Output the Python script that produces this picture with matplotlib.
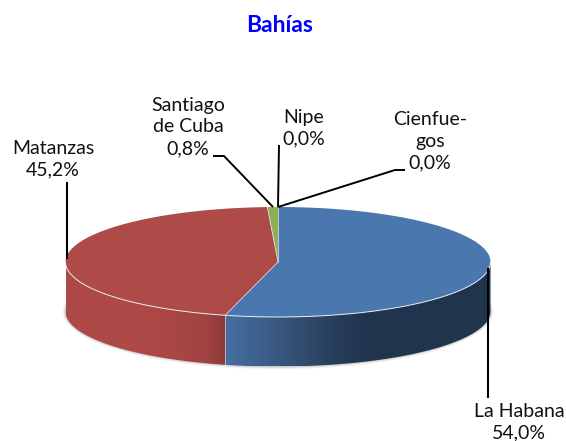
import numpy as np
import matplotlib
matplotlib.use('Agg')
import matplotlib.pyplot as plt
from matplotlib.patches import Ellipse, Polygon

# Data
categories = ['La Habana', 'Matanzas', 'Santiago\nde Cuba', 'Nipe', 'Cienfue-\ngos']
values = [54.0, 45.2, 0.8, 0.0, 0.0]
pct_labels = ['54,0%', '45,2%', '0,8%', '0,0%', '0,0%']
colors = ['#4977ae', '#ae4b48', '#8fae55', '#7a5f9a', '#46aac5']

plt.rcParams['font.family'] = ['Lato', 'DejaVu Sans']

# pie geometry in pixels
cx, cy, rx, ry, depth = 278, 262, 212.5, 55, 49.5


def rim(a):
    return cx + rx * np.sin(a), cy + ry * -np.cos(a)


fig = plt.figure(figsize=(5.66, 4.41), dpi=100, facecolor='white')
ax = fig.add_axes([0, 0, 1, 1])
ax.set_xlim(0, 566)
ax.set_ylim(441, 0)
ax.axis('off')

# soft shadow under the pie
for grow, alpha in [(3.0, 0.06), (2.2, 0.10), (1.4, 0.16), (0.7, 0.22)]:
    ax.add_patch(Ellipse((cx, cy + depth), 2 * (rx + grow), 2 * (ry + grow), fc='#909090', ec='none',
                         alpha=alpha, zorder=1))

# side wall, horizontal gradient clipped to the wall outline
xs_stop = [65, 120, 170, 205, 225, 225.01, 260, 300, 340, 365, 491]
side_r = [173, 174, 170, 160, 142, 70, 62, 50, 38, 32, 32]
side_g = [74, 74, 71, 67, 60, 112, 96, 78, 60, 52, 52]
side_b = [71, 72, 69, 65, 58, 162, 140, 113, 88, 78, 78]
grad_x = np.linspace(cx - rx, cx + rx, 852)
grad = np.dstack([np.interp(grad_x, xs_stop, side_r), np.interp(grad_x, xs_stop, side_g),
                  np.interp(grad_x, xs_stop, side_b)]).astype(np.uint8)
wall = np.linspace(np.pi / 2, 3 * np.pi / 2, 300)
wx, wy = rim(wall)
outline = Polygon(np.c_[np.r_[wx, wx[::-1]], np.r_[wy - 2, wy[::-1] + depth]], closed=True,
                  transform=ax.transData, fc='none', ec='none')
ax.add_patch(outline)
im = ax.imshow(grad, extent=[cx - rx, cx + rx, cy + ry + depth, cy - 5], aspect='auto', zorder=2,
               interpolation='bilinear')
im.set_clip_path(outline)
ax.set_xlim(0, 566)
ax.set_ylim(441, 0)

# top face wedges, clockwise from 12 o'clock
edges = np.concatenate([[0], np.cumsum(values)]) / sum(values) * 2 * np.pi
for i, val in enumerate(values):
    if val == 0:
        continue
    a = np.linspace(edges[i], edges[i + 1], 200)
    xr, yr = rim(a)
    ax.fill(np.r_[cx, xr], np.r_[cy, yr], color=colors[i], lw=0, zorder=3)

# white seams
for e in edges[:3]:
    xe, ye = rim(e)
    ax.plot([cx, xe], [cy, ye], color='#e4e8ee', lw=0.5, zorder=4)
xr, yr = rim(wall)
ax.plot(xr, yr, color='#edf0f4', lw=0.7, zorder=4)
xe, ye = rim(edges[1])
ax.plot([xe, xe], [ye, ye + depth], color='#d8dde4', lw=0.5, zorder=4)

# leader lines
ax.plot([67, 67], [182, 259], color='black', lw=1.5, zorder=5, solid_capstyle='butt')
ax.plot([213, 224, 273], [156, 156, 207], color='black', lw=1.4, zorder=5, solid_capstyle='butt')
ax.plot([279, 278], [145, 207], color='black', lw=1.4, zorder=5, solid_capstyle='butt')
ax.plot([405, 395, 278], [170, 170, 207], color='black', lw=1.4, zorder=5, solid_capstyle='butt')
ax.plot([488, 488], [268, 398], color='black', lw=1.5, zorder=5, solid_capstyle='butt')

# labels
label_pos = [(519, 422), (53, 159), (188, 127), (304, 128), (430, 141)]
for name, pct, (lx, ly) in zip(categories, pct_labels, label_pos):
    ax.text(lx, ly, name + '\n' + pct, ha='center', va='center', fontsize=14, color='#111111',
            linespacing=1.32, zorder=6)

ax.text(280, 26, 'Bahías', ha='center', va='center', fontsize=16.5, fontweight='bold', color='#0000ff')

fig.savefig('out.png', dpi=100)
